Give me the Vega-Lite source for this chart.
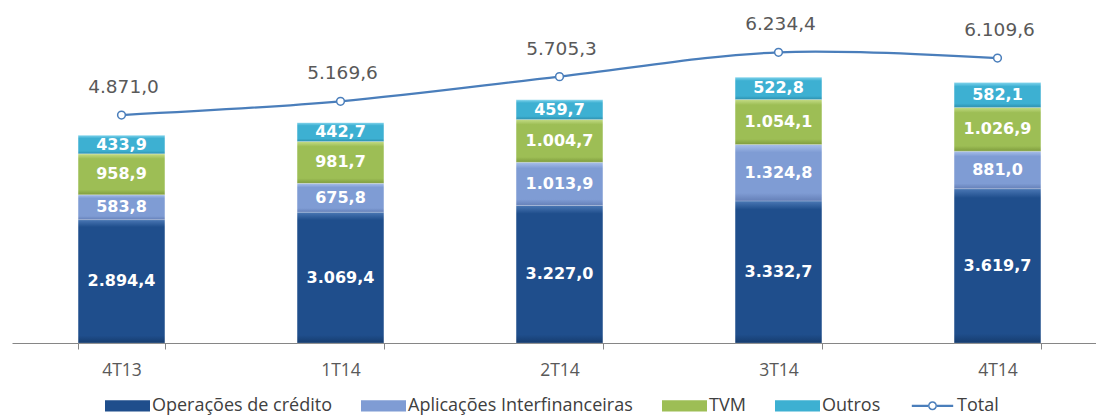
{
  "$schema": "https://vega.github.io/schema/vega-lite/v6.json",
  "width": 1084,
  "height": 341,
  "autosize": {"type": "none"},
  "padding": {"left": 12, "top": 2, "right": 0, "bottom": 74},
  "background": "white",
  "config": {
    "view": {"stroke": null},
    "font": "DejaVu Sans",
    "locale": {"number": {"decimal": ",", "thousands": ".", "grouping": [3], "currency": ["R$", ""]}}
  },
  "datasets": {
    "bars": [
      {"trimestre": "4T13", "serie": "Operações de crédito", "ordem": 1, "valor": 2894.4},
      {"trimestre": "4T13", "serie": "Aplicações Interfinanceiras", "ordem": 2, "valor": 583.8},
      {"trimestre": "4T13", "serie": "TVM", "ordem": 3, "valor": 958.9},
      {"trimestre": "4T13", "serie": "Outros", "ordem": 4, "valor": 433.9},
      {"trimestre": "1T14", "serie": "Operações de crédito", "ordem": 1, "valor": 3069.4},
      {"trimestre": "1T14", "serie": "Aplicações Interfinanceiras", "ordem": 2, "valor": 675.8},
      {"trimestre": "1T14", "serie": "TVM", "ordem": 3, "valor": 981.7},
      {"trimestre": "1T14", "serie": "Outros", "ordem": 4, "valor": 442.7},
      {"trimestre": "2T14", "serie": "Operações de crédito", "ordem": 1, "valor": 3227.0},
      {"trimestre": "2T14", "serie": "Aplicações Interfinanceiras", "ordem": 2, "valor": 1013.9},
      {"trimestre": "2T14", "serie": "TVM", "ordem": 3, "valor": 1004.7},
      {"trimestre": "2T14", "serie": "Outros", "ordem": 4, "valor": 459.7},
      {"trimestre": "3T14", "serie": "Operações de crédito", "ordem": 1, "valor": 3332.7},
      {"trimestre": "3T14", "serie": "Aplicações Interfinanceiras", "ordem": 2, "valor": 1324.8},
      {"trimestre": "3T14", "serie": "TVM", "ordem": 3, "valor": 1054.1},
      {"trimestre": "3T14", "serie": "Outros", "ordem": 4, "valor": 522.8},
      {"trimestre": "4T14", "serie": "Operações de crédito", "ordem": 1, "valor": 3619.7},
      {"trimestre": "4T14", "serie": "Aplicações Interfinanceiras", "ordem": 2, "valor": 881.0},
      {"trimestre": "4T14", "serie": "TVM", "ordem": 3, "valor": 1026.9},
      {"trimestre": "4T14", "serie": "Outros", "ordem": 4, "valor": 582.1}
    ],
    "totais": [
      {"trimestre": "4T13", "total": 4871.0},
      {"trimestre": "1T14", "total": 5169.6},
      {"trimestre": "2T14", "total": 5705.3},
      {"trimestre": "3T14", "total": 6234.4},
      {"trimestre": "4T14", "total": 6109.6}
    ],
    "vazio": []
  },
  "encoding": {
    "x": {
      "field": "trimestre",
      "type": "nominal",
      "sort": ["4T13", "1T14", "2T14", "3T14", "4T14"],
      "scale": {"range": [0, 1095], "paddingInner": 0.604, "paddingOuter": 0.302},
      "axis": {
        "title": null,
        "labelAngle": 0,
        "domainColor": "#868686",
        "tickColor": "#868686",
        "tickBand": "extent",
        "tickSize": 6,
        "labelFont": "Open Sans",
        "labelFontSize": 17.5,
        "labelColor": "#595959",
        "labelBaseline": "middle",
        "labelPadding": 21
      }
    }
  },
  "layer": [
    {
      "data": {"name": "bars"},
      "transform": [
        {"stack": "valor", "groupby": ["trimestre"], "sort": [{"field": "ordem", "order": "ascending"}], "as": ["v0", "v1"]}
      ],
      "encoding": {
        "y": {"field": "v1", "type": "quantitative", "scale": {"domain": [0, 8000], "nice": false}, "axis": null}
      },
      "layer": [
        {
          "transform": [{"filter": {"field": "serie", "equal": "Operações de crédito"}}],
          "mark": {"type": "bar", "stroke": "#ffffff", "strokeOpacity": 0.2, "strokeWidth": 1,
            "color": {"gradient": "linear", "x1": 0, "y1": 0, "x2": 0, "y2": 1, "stops": [{"offset": 0, "color": "#4B78B5"}, {"offset": 0.06, "color": "#1F4E8C"}, {"offset": 0.94, "color": "#1F4E8C"}, {"offset": 1, "color": "#163C6E"}]}},
          "encoding": {"y2": {"field": "v0"}}
        },
        {
          "transform": [{"filter": {"field": "serie", "equal": "Aplicações Interfinanceiras"}}],
          "mark": {"type": "bar", "stroke": "#ffffff", "strokeOpacity": 0.2, "strokeWidth": 1,
            "color": {"gradient": "linear", "x1": 0, "y1": 0, "x2": 0, "y2": 1, "stops": [{"offset": 0, "color": "#A9C0EA"}, {"offset": 0.14, "color": "#7F9CD4"}, {"offset": 0.86, "color": "#7F9CD4"}, {"offset": 1, "color": "#6580B8"}]}},
          "encoding": {"y2": {"field": "v0"}}
        },
        {
          "transform": [{"filter": {"field": "serie", "equal": "TVM"}}],
          "mark": {"type": "bar", "stroke": "#ffffff", "strokeOpacity": 0.2, "strokeWidth": 1,
            "color": {"gradient": "linear", "x1": 0, "y1": 0, "x2": 0, "y2": 1, "stops": [{"offset": 0, "color": "#C4DC86"}, {"offset": 0.12, "color": "#9DBE55"}, {"offset": 0.88, "color": "#9DBE55"}, {"offset": 1, "color": "#7F9C3E"}]}},
          "encoding": {"y2": {"field": "v0"}}
        },
        {
          "transform": [{"filter": {"field": "serie", "equal": "Outros"}}],
          "mark": {"type": "bar", "stroke": "#ffffff", "strokeOpacity": 0.2, "strokeWidth": 1,
            "color": {"gradient": "linear", "x1": 0, "y1": 0, "x2": 0, "y2": 1, "stops": [{"offset": 0, "color": "#7FD3EC"}, {"offset": 0.16, "color": "#3DB0D2"}, {"offset": 0.84, "color": "#3DB0D2"}, {"offset": 1, "color": "#2C8FAE"}]}},
          "encoding": {"y2": {"field": "v0"}}
        },
        {
          "mark": {
            "type": "text",
            "color": "white",
            "fontWeight": "bold",
            "fontSize": 16,
            "font": "DejaVu Sans",
            "baseline": "middle",
            "dy": {"expr": "datum.valor * 0.0213125"}
          },
          "encoding": {
            "text": {"field": "valor", "type": "quantitative", "format": ",.1f"}
          }
        }
      ]
    },
    {
      "data": {"name": "totais"},
      "layer": [
        {
          "mark": {"type": "line", "interpolate": "catmull-rom", "color": "#4A7EBB", "strokeWidth": 2.25},
          "encoding": {
            "y": {"field": "total", "type": "quantitative", "scale": {"domain": [-86, 7328], "nice": false, "zero": false}, "axis": null}
          }
        },
        {
          "mark": {"type": "point", "shape": "circle", "filled": false, "fill": "white", "stroke": "#4A7EBB", "strokeWidth": 1.5, "size": 60, "opacity": 1},
          "encoding": {
            "y": {"field": "total", "type": "quantitative"}
          }
        },
        {
          "mark": {"type": "text", "color": "#595959", "fontSize": 18.5, "font": "DejaVu Sans", "baseline": "alphabetic", "dy": -22, "dx": 2},
          "encoding": {
            "y": {"field": "total", "type": "quantitative"},
            "text": {"field": "total", "type": "quantitative", "format": ",.1f"}
          }
        }
      ]
    },
    {
      "data": {"name": "vazio"},
      "mark": {"type": "point", "filled": true, "opacity": 1},
      "encoding": {
        "y": {"field": "total", "type": "quantitative"},
        "color": {
          "field": "serie",
          "type": "nominal",
          "scale": {
            "domain": ["Operações de crédito", "Aplicações Interfinanceiras", "TVM", "Outros", "Total"],
            "range": ["#1F4E8C", "#7F9CD4", "#9DBE55", "#3DB0D2", "#4A7EBB"]
          },
          "legend": {
            "orient": "none",
            "legendX": 93,
            "legendY": 381,
            "direction": "horizontal",
            "title": null,
            "symbolSize": 2025,
            "symbolStrokeWidth": 0,
            "labelFont": "Open Sans",
            "labelFontSize": 18,
            "labelColor": "#404040",
            "labelOffset": 2,
            "labelLimit": 400,
            "columnPadding": 29
          }
        },
        "shape": {
          "field": "serie",
          "type": "nominal",
          "scale": {
            "domain": ["Operações de crédito", "Aplicações Interfinanceiras", "TVM", "Outros", "Total"],
            "range": [
              "M-1,-0.25H1V0.25H-1Z",
              "M-1,-0.25H1V0.25H-1Z",
              "M-1,-0.25H1V0.25H-1Z",
              "M-1,-0.25H1V0.25H-1Z",
              "M-0.92,-0.05H-0.2V0.05H-0.92Z M0.2,-0.05H0.92V0.05H0.2Z M0.2,0A0.2,0.2 0 1,0 -0.2,0A0.2,0.2 0 1,0 0.2,0Z M0.133,0A0.133,0.133 0 1,1 -0.133,0A0.133,0.133 0 1,1 0.133,0Z"
            ]
          }
        }
      }
    }
  ],
  "resolve": {"scale": {"y": "independent"}}
}
